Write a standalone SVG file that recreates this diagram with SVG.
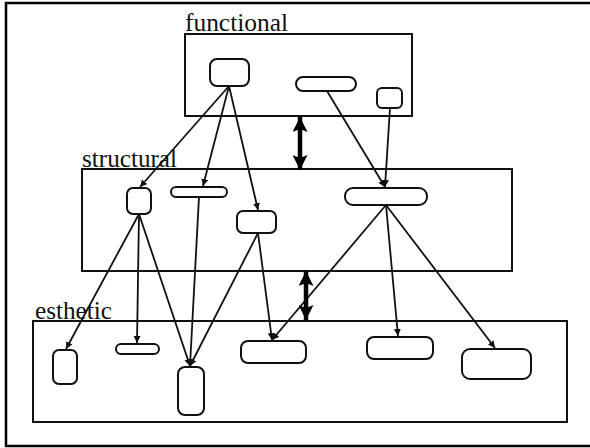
<svg xmlns="http://www.w3.org/2000/svg" width="590" height="448" viewBox="0 0 590 448">
  <style>
    .frame { fill: none; stroke: #000; stroke-width: 2.5; }
    .layer { fill: none; stroke: #111; stroke-width: 2; }
    .node { fill: #fff; stroke: #111; stroke-width: 2; }
    .label { font-family: "Liberation Serif", "Times New Roman", serif; font-size: 25px; fill: #111; }
    .edge { fill: none; stroke: #111; stroke-width: 1.8; marker-end: url(#tip); }
    .link { fill: none; stroke: #000; stroke-width: 4.5; marker-start: url(#big); marker-end: url(#big); }
  </style>
  <defs>
    <marker id="tip" viewBox="0 0 10 10" refX="10" refY="5" markerWidth="7" markerHeight="7" markerUnits="userSpaceOnUse" orient="auto">
      <path d="M0,0 L10,5 L0,10 z" fill="#111"/>
    </marker>
    <marker id="big" viewBox="0 0 10 10" refX="10" refY="5" markerWidth="16" markerHeight="15" markerUnits="userSpaceOnUse" orient="auto-start-reverse">
      <path d="M0,0 L10,5 L0,10 L2,5 z" fill="#000"/>
    </marker>
  </defs>

  <rect class="frame" x="6" y="3" width="592" height="443"/>

  <!-- layers -->
  <g id="layer-functional">
    <rect class="layer" x="185" y="34" width="227" height="82"/>
    <text class="label" x="185" y="31" textLength="103" lengthAdjust="spacingAndGlyphs">functional</text>
  </g>
  <g id="layer-structural">
    <rect class="layer" x="82" y="169" width="430" height="102"/>
    <text class="label" x="82" y="167" textLength="95" lengthAdjust="spacingAndGlyphs">structural</text>
  </g>
  <g id="layer-esthetic">
    <rect class="layer" x="33" y="321" width="534" height="101"/>
    <text class="label" x="35" y="319" textLength="77" lengthAdjust="spacingAndGlyphs">esthetic</text>
  </g>

  <!-- connectors -->
  <g id="connectors">
    <line class="edge" x1="229" y1="86" x2="140" y2="187"/>
    <line class="edge" x1="229" y1="86" x2="203" y2="186"/>
    <line class="edge" x1="229" y1="86" x2="258" y2="210"/>
    <line class="edge" x1="327" y1="91" x2="385" y2="187"/>
    <line class="edge" x1="390" y1="108" x2="385" y2="187"/>
    <line class="edge" x1="139" y1="214" x2="66" y2="349"/>
    <line class="edge" x1="139" y1="214" x2="137" y2="343"/>
    <line class="edge" x1="139" y1="214" x2="190" y2="366"/>
    <line class="edge" x1="199" y1="197" x2="190" y2="366"/>
    <line class="edge" x1="258" y1="233" x2="190" y2="366"/>
    <line class="edge" x1="258" y1="233" x2="272" y2="340"/>
    <line class="edge" x1="386" y1="205" x2="272" y2="340"/>
    <line class="edge" x1="386" y1="205" x2="398" y2="336"/>
    <line class="edge" x1="386" y1="205" x2="495" y2="348"/>
    <line class="link" x1="300" y1="117" x2="300" y2="170"/>
    <line class="link" x1="306" y1="271" x2="306" y2="320"/>
  </g>

  <!-- nodes -->
  <g id="f1"><rect class="node" x="210" y="59" width="39" height="27" rx="7"/></g>
  <g id="f2"><rect class="node" x="296" y="77" width="60" height="14" rx="7"/></g>
  <g id="f3"><rect class="node" x="377" y="88" width="25" height="20" rx="5"/></g>

  <g id="s1"><rect class="node" x="127" y="188" width="24" height="26" rx="6"/></g>
  <g id="s2"><rect class="node" x="171" y="187" width="56" height="10" rx="5"/></g>
  <g id="s3"><rect class="node" x="237" y="211" width="39" height="22" rx="6"/></g>
  <g id="s4"><rect class="node" x="345" y="188" width="82" height="17" rx="8"/></g>

  <g id="e1"><rect class="node" x="53" y="350" width="24" height="34" rx="6"/></g>
  <g id="e2"><rect class="node" x="116" y="344" width="43" height="10" rx="5"/></g>
  <g id="e3"><rect class="node" x="178" y="367" width="26" height="48" rx="7"/></g>
  <g id="e4"><rect class="node" x="241" y="341" width="65" height="22" rx="7"/></g>
  <g id="e5"><rect class="node" x="367" y="337" width="66" height="22" rx="7"/></g>
  <g id="e6"><rect class="node" x="462" y="349" width="69" height="30" rx="8"/></g>
</svg>
